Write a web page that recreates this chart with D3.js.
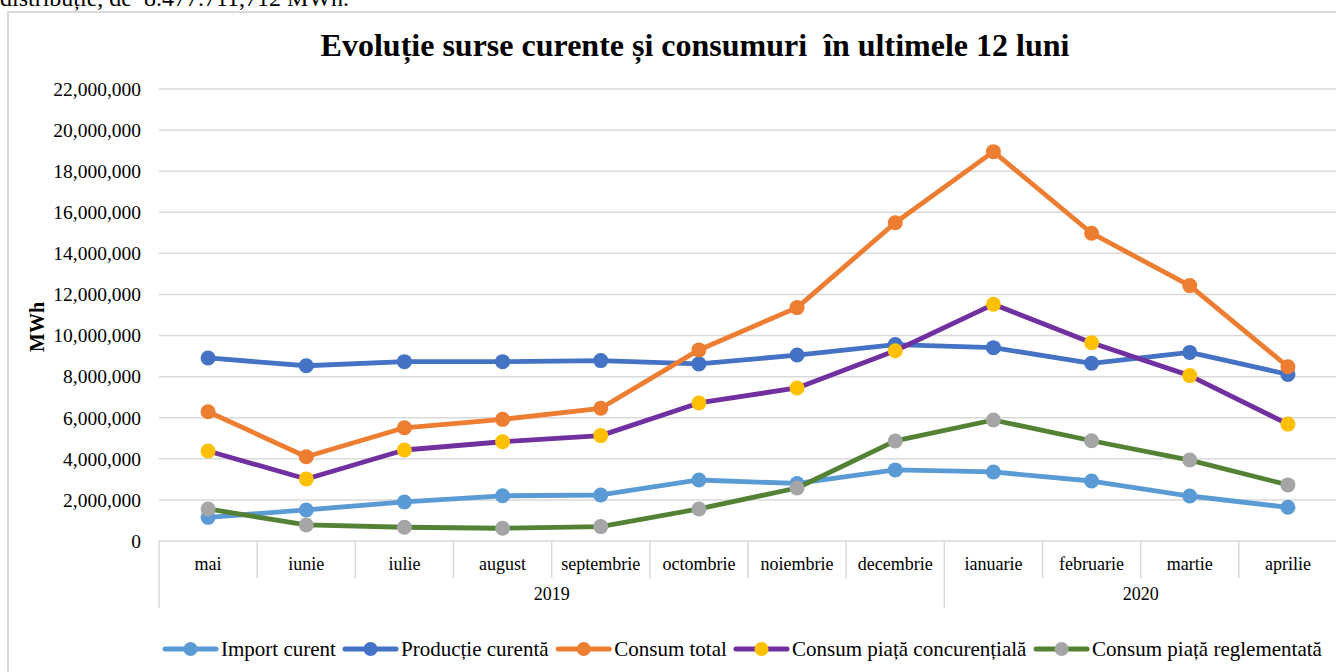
<!DOCTYPE html>
<html>
<head>
<meta charset="utf-8">
<script src="https://cdn.jsdelivr.net/npm/d3@7"></script>
<style>
  body { margin: 0; background: #fff; overflow: hidden; }
  svg { display: block; font-family: "Liberation Serif", "Times New Roman", serif; }
</style>
</head>
<body>
<svg id="chart"></svg>
<script>
// months and year groups
const months = ["mai", "iunie", "iulie", "august", "septembrie", "octombrie",
  "noiembrie", "decembrie", "ianuarie", "februarie", "martie", "aprilie"];
const years = [
  { label: "2019", from: 0, to: 7 },
  { label: "2020", from: 8, to: 11 }
];

// series values (MWh)
const importCurent = [1150000, 1510000, 1900000, 2200000, 2240000, 2970000,
  2800000, 3460000, 3360000, 2920000, 2190000, 1640000];
const productieCurenta = [8910000, 8530000, 8730000, 8730000, 8780000, 8620000,
  9050000, 9560000, 9410000, 8650000, 9180000, 8110000];
const consumTotal = [6290000, 4100000, 5510000, 5920000, 6460000, 9300000,
  11360000, 15490000, 18950000, 14980000, 12430000, 8480000];
const consumConcurential = [4380000, 3020000, 4430000, 4830000, 5130000, 6720000,
  7450000, 9260000, 11520000, 9650000, 8050000, 5690000];
const consumReglementat = [1560000, 780000, 670000, 620000, 700000, 1560000,
  2580000, 4870000, 5890000, 4880000, 3940000, 2730000];

const yTicks = [0, 2000000, 4000000, 6000000, 8000000, 10000000, 12000000,
  14000000, 16000000, 18000000, 20000000, 22000000];

const series = [
  { name: "Import curent", values: importCurent, line: "#5B9BD5", marker: "#5B9BD5" },
  { name: "Producție curentă", values: productieCurenta, line: "#4472C4", marker: "#4472C4" },
  { name: "Consum total", values: consumTotal, line: "#ED7D31", marker: "#ED7D31" },
  { name: "Consum piață concurențială", values: consumConcurential, line: "#7030A0", marker: "#FFC000" },
  { name: "Consum piață reglementată", values: consumReglementat, line: "#548235", marker: "#A5A5A5" }
];

const width = 1336, height = 672;
const plot = { left: 159, right: 1337, top: 89, bottom: 541 };

const svg = d3.select("#chart").attr("width", width).attr("height", height);

// cut-off sentence from the document above the chart
svg.append("text")
  .attr("x", 0).attr("y", 6)
  .attr("font-size", 24).attr("fill", "#000")
  .style("white-space", "pre")
  .text("distribuție, de  8.477.711,712 MWh.");

// chart frame
svg.append("rect")
  .attr("x", 8).attr("y", 12)
  .attr("width", 1340).attr("height", 680)
  .attr("fill", "#fff").attr("stroke", "#d9d9d9").attr("stroke-width", 2);

const x = d3.scaleBand().domain(months).range([plot.left, plot.right]);
const y = d3.scaleLinear().domain([0, 22000000]).range([plot.bottom, plot.top]);
const cx = m => x(m) + x.bandwidth() / 2;

// gridlines
svg.append("g")
  .selectAll("line")
  .data(yTicks.slice(1))
  .join("line")
  .attr("x1", plot.left).attr("x2", plot.right)
  .attr("y1", d => y(d)).attr("y2", d => y(d))
  .attr("stroke", "#d9d9d9").attr("stroke-width", 1.5);

// y tick labels
svg.append("g")
  .selectAll("text")
  .data(yTicks)
  .join("text")
  .attr("x", 141)
  .attr("y", d => y(d))
  .attr("dy", "0.35em")
  .attr("text-anchor", "end")
  .attr("font-size", 19.5)
  .attr("fill", "#000")
  .text(d => d3.format(",")(d));

// y axis title
svg.append("text")
  .attr("transform", `translate(44,${(plot.top + plot.bottom) / 2 + 12}) rotate(-90)`)
  .attr("text-anchor", "middle")
  .attr("font-size", 20)
  .attr("font-weight", "bold")
  .text("MWh");

// category axis with grouped years
const axisG = svg.append("g");
axisG.append("line")
  .attr("x1", plot.left).attr("x2", plot.right)
  .attr("y1", plot.bottom).attr("y2", plot.bottom)
  .attr("stroke", "#d9d9d9").attr("stroke-width", 1.5);

const yearStarts = years.map(d => d.from);
axisG.selectAll("line.sep")
  .data(d3.range(months.length))
  .join("line")
  .attr("class", "sep")
  .attr("x1", i => x(months[i])).attr("x2", i => x(months[i]))
  .attr("y1", plot.bottom)
  .attr("y2", i => yearStarts.includes(i) ? 608 : 578)
  .attr("stroke", "#d9d9d9").attr("stroke-width", 1.5);

axisG.selectAll("text.month")
  .data(months)
  .join("text")
  .attr("class", "month")
  .attr("x", d => cx(d))
  .attr("y", 570)
  .attr("text-anchor", "middle")
  .attr("font-size", 18)
  .text(d => d);

axisG.selectAll("text.year")
  .data(years)
  .join("text")
  .attr("class", "year")
  .attr("x", d => (x(months[d.from]) + x(months[d.to]) + x.bandwidth()) / 2)
  .attr("y", 600)
  .attr("text-anchor", "middle")
  .attr("font-size", 18)
  .text(d => d.label);

// lines and markers
const line = d3.line()
  .x((d, i) => cx(months[i]))
  .y(d => y(d));

const serG = svg.append("g")
  .selectAll("g")
  .data(series)
  .join("g");

serG.append("path")
  .attr("d", d => line(d.values))
  .attr("fill", "none")
  .attr("stroke", d => d.line)
  .attr("stroke-width", 4.8)
  .attr("stroke-linejoin", "round");

serG.selectAll("circle")
  .data(d => d.values.map((v, i) => ({ v, i, color: d.marker })))
  .join("circle")
  .attr("cx", d => cx(months[d.i]))
  .attr("cy", d => y(d.v))
  .attr("r", 7.5)
  .attr("fill", d => d.color);

// title
svg.append("text")
  .attr("x", 695)
  .attr("y", 56)
  .attr("text-anchor", "middle")
  .attr("font-size", 32)
  .attr("font-weight", "bold")
  .style("white-space", "pre")
  .text("Evoluție surse curente și consumuri  în ultimele 12 luni");

// legend
const legend = svg.append("g").attr("transform", "translate(163,649)");
const items = legend.selectAll("g")
  .data(series)
  .join("g");
items.append("line")
  .attr("x1", 2).attr("x2", 53)
  .attr("y1", 0).attr("y2", 0)
  .attr("stroke", d => d.line)
  .attr("stroke-width", 5)
  .attr("stroke-linecap", "round");
items.append("circle")
  .attr("cx", 27.5).attr("cy", 0).attr("r", 7)
  .attr("fill", d => d.marker);
items.append("text")
  .attr("x", 58).attr("dy", "0.35em")
  .attr("font-size", 21)
  .text(d => d.name);

let offset = 0;
items.each(function () {
  const w = this.getBBox().width;
  d3.select(this).attr("transform", `translate(${offset},0)`);
  offset += w + 9;
});
</script>
</body>
</html>
